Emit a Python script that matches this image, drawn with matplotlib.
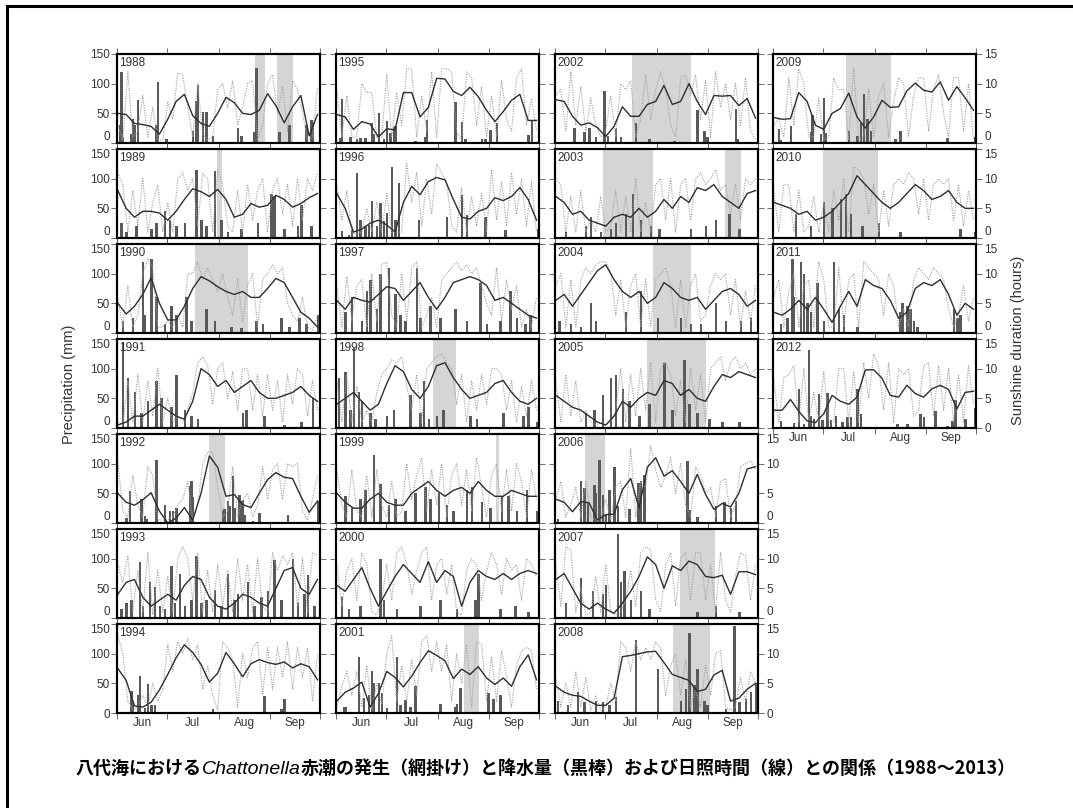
import numpy as np
import matplotlib
matplotlib.use('Agg')
import matplotlib.pyplot as plt
from matplotlib.lines import Line2D

plt.rcParams['font.family'] = ['Liberation Sans', 'DejaVu Sans']

# day index 0 = 1 June, 121 = 30 Sep
sun_days = np.arange(0, 121, 3)   # daily sunshine read every 3rd day
avg_days = np.arange(0, 121, 5)   # running mean read every 5th day
month_edges = [0, 30, 61, 92, 122]
month_mid = [15, 45.5, 76.5, 107]
month_names = ['Jun', 'Jul', 'Aug', 'Sep']

# ---- data: rain = (day, mm), sun = hours (daily), avg = hours (smoothed), tide = red tide spans
rain_1988 = [(1, 30), (2, 120), (3, 10), (8, 15), (9, 41), (10, 30), (12, 72), (23, 30), (24, 102), (29, 7),
             (45, 21), (47, 71), (48, 98), (51, 52), (53, 52), (57, 11), (72, 25), (74, 11), (82, 18), (83, 126),
             (97, 18), (103, 31), (113, 31), (116, 38), (117, 35)]
sun_1988 = [3, 0.5, 12, 1, 2, 8, 1, 6, 0.5, 0.5, 7, 4, 11.8, 11.5, 6, 1, 10, 1.5, 0.5, 1, 9, 10, 6, 10.5, 3, 6,
            10, 10.5, 0.5, 3, 10, 11.5, 5, 9.5, 2, 10.5, 9, 5, 0.5, 1, 9.5]
avg_1988 = [5.0, 4.8, 3.3, 3.1, 2.8, 1.5, 4.0, 7.0, 8.2, 4.6, 3.3, 2.8, 5.0, 7.7, 6.8, 5.0, 4.8, 5.5, 8.3, 6.3,
            3.4, 6.1, 8.0, 1.2, 4.8]
tide_1988 = [(83, 89), (96, 106)]

rain_1989 = [(2, 25), (5, 10), (11, 20), (20, 15), (23, 25), (28, 45), (31, 30), (35, 20), (40, 25), (47, 115),
             (50, 30), (53, 20), (58, 113), (62, 30), (66, 10), (74, 15), (84, 25), (92, 75), (94, 70), (100, 15),
             (108, 20), (110, 55), (116, 20)]
sun_1989 = [11, 9, 1, 8, 2, 10, 1, 6, 9, 1, 6, 1, 10, 11, 8, 10, 2, 11, 10, 1, 11.5, 9, 2, 1, 8, 1, 9, 3, 8, 10,
            1, 8, 10, 4, 9, 2, 10, 3, 10, 8, 11]
avg_1989 = [8.0, 5.0, 3.5, 4.5, 4.5, 4.2, 3.0, 4.5, 6.5, 8.3, 7.8, 7.0, 8.2, 6.5, 3.5, 4.0, 5.8, 5.2, 5.5, 7.2,
            6.5, 5.2, 5.8, 6.8, 7.5]
tide_1989 = [(60, 63)]

rain_1990 = [(3, 20), (9, 25), (15, 120), (16, 30), (20, 125), (23, 60), (28, 15), (32, 45), (35, 30), (41, 60),
             (44, 20), (53, 40), (58, 20), (68, 10), (74, 8), (83, 20), (87, 15), (98, 25), (103, 10), (109, 25),
             (113, 15), (120, 30)]
sun_1990 = [6, 1, 8, 1, 3, 10, 12.5, 11, 1, 1, 2, 1, 3, 1, 10, 10, 12, 9, 11, 9, 7, 10, 6, 3, 9, 2, 8, 10, 1, 9,
            10, 11.5, 10, 11, 5, 3, 2, 6, 1, 0.5, 3]
avg_1990 = [5.0, 3.2, 4.5, 6.5, 9.3, 5.0, 2.2, 2.2, 4.5, 7.5, 9.5, 8.8, 7.8, 7.0, 6.5, 7.0, 6.0, 6.0, 7.5, 9.2,
            8.5, 6.0, 3.5, 2.5, 1.0]
tide_1990 = [(47, 79)]

rain_1991 = [(3, 145), (6, 85), (10, 60), (14, 25), (18, 45), (23, 80), (26, 50), (32, 35), (35, 90), (40, 30),
             (44, 20), (48, 15), (75, 25), (77, 30), (88, 20), (100, 5), (110, 10), (117, 50)]
sun_1991 = [1, 0.5, 8, 1, 9, 1, 8, 2, 10, 1, 5, 1, 2, 1, 3, 6, 11, 12, 10.5, 4, 10, 11, 5, 9.5, 3, 10, 10, 3, 9,
            2, 9, 3, 8, 1, 9, 4, 10, 9, 2, 8, 3]
avg_1991 = [0.5, 1.0, 2.0, 2.0, 3.0, 4.0, 3.0, 2.0, 1.5, 4.5, 10.0, 9.0, 7.0, 8.0, 6.0, 7.0, 8.0, 6.0, 5.0, 5.0,
            5.5, 6.0, 7.0, 5.5, 4.5]
tide_1991 = []

rain_1992 = [(5, 8), (7, 54), (14, 40), (16, 12), (17, 6), (23, 107), (28, 31), (31, 20), (33, 20), (35, 25),
             (43, 63), (44, 71), (45, 43), (63, 21), (64, 23), (66, 37), (67, 28), (69, 80), (70, 25), (73, 48),
             (74, 37), (75, 38), (76, 14), (81, 3), (85, 17), (102, 14), (120, 37)]
sun_1992 = [10.5, 2, 1, 8, 3, 1, 9.5, 8, 0.5, 0.5, 0.5, 1, 3, 4, 7, 0.5, 3, 10, 12, 12, 6, 1, 2, 9.5, 1, 4, 5, 1,
            3, 9.5, 4, 9, 10, 4, 10, 9.5, 10, 2, 0.5, 4, 8]
avg_1992 = [5.0, 3.5, 3.0, 3.9, 5.1, 2.0, 0.0, 0.8, 2.6, 0.5, 5.0, 11.3, 9.4, 4.5, 4.8, 3.1, 2.6, 5.0, 7.3, 8.5,
            7.7, 7.5, 4.5, 1.8, 3.7]
tide_1992 = [(55, 65)]

rain_1993 = [(2, 15), (5, 25), (8, 30), (13, 95), (15, 20), (19, 60), (22, 52), (25, 20), (28, 15), (32, 88),
             (34, 25), (37, 75), (40, 20), (44, 30), (47, 105), (50, 25), (53, 30), (58, 48), (62, 20), (66, 75),
             (70, 30), (72, 40), (78, 60), (82, 20), (86, 35), (90, 45), (94, 97), (98, 30), (105, 100), (108, 25),
             (112, 40), (114, 73), (118, 20)]
sun_1993 = [9, 6, 10.5, 1, 8, 1, 11, 0.5, 8, 1, 7, 1, 10, 12, 10, 3, 11, 1, 8, 1, 9, 2, 8, 1, 10, 3, 9, 1, 10, 2,
            1, 11, 8, 10.5, 9, 11, 2, 10, 1, 11, 10.5]
avg_1993 = [4.0, 6.0, 6.5, 3.5, 2.0, 3.0, 4.0, 3.0, 5.5, 7.0, 6.5, 3.5, 2.0, 1.5, 2.5, 4.0, 3.5, 2.5, 2.0, 5.0,
            8.0, 8.5, 5.0, 4.0, 6.5]
tide_1993 = []

rain_1994 = [(8, 37), (9, 20), (12, 30), (13, 62), (16, 8), (18, 49), (20, 13), (22, 14), (57, 7), (88, 29),
             (98, 7), (100, 23)]
sun_1994 = [13, 10, 2, 0.5, 1, 3, 1, 5, 2, 4, 11.5, 7, 12, 10, 12.5, 9, 11.5, 4, 8, 3, 0.5, 12, 11, 9, 1, 10, 6,
            11, 12, 3, 11, 4, 11, 6, 12, 4, 11, 6, 11, 2, 10]
avg_1994 = [7.5, 5.5, 1.2, 1.0, 1.8, 3.9, 6.5, 9.3, 11.5, 10.2, 8.2, 5.2, 6.7, 10.2, 8.3, 6.1, 8.3, 9.0, 8.5, 8.2,
            8.6, 7.6, 8.3, 7.8, 5.6]
tide_1994 = []

rain_1995 = [(2, 9), (3, 75), (8, 10), (12, 7), (14, 8), (17, 8), (21, 34), (22, 16), (25, 51), (28, 7), (30, 37),
             (32, 17), (34, 27), (35, 28), (47, 4), (53, 10), (54, 39), (71, 69), (75, 36), (77, 6), (87, 6),
             (89, 7), (92, 22), (96, 34), (115, 13), (117, 37)]
sun_1995 = [9, 1, 8, 1, 1, 10, 8.5, 8.5, 1, 1, 11.5, 1, 8.5, 3, 12.5, 12.5, 1, 8, 2, 12, 1, 12.5, 12.5, 12, 2, 0.5,
            12, 11, 3, 9.5, 1, 8, 1, 10.5, 4, 2, 11, 12.5, 3, 7.5, 2]
avg_1995 = [4.8, 4.4, 2.3, 3.6, 3.2, 1.0, 2.4, 2.2, 8.5, 8.5, 4.4, 6.0, 10.9, 10.8, 8.7, 8.0, 9.4, 7.8, 5.5, 3.6,
            5.3, 7.2, 8.2, 3.8, 3.8]
tide_1995 = []

rain_1996 = [(3, 11), (7, 5), (9, 14), (12, 110), (14, 31), (17, 20), (19, 22), (21, 62), (24, 20), (26, 59),
             (28, 28), (30, 42), (33, 119), (35, 31), (37, 92), (49, 31), (66, 36), (75, 73), (78, 39), (89, 36),
             (101, 14), (121, 15)]
sun_1996 = [9, 3, 8, 1, 0.5, 1, 5, 1, 6, 1, 7.5, 1, 1, 1, 12.5, 6, 11, 2, 10, 4, 12.5, 11, 9.5, 2, 1, 8.5, 1, 7,
            2, 7.5, 1, 11.5, 3, 9.5, 2, 11, 4, 10, 2, 9.5, 1]
avg_1996 = [7.5, 5.0, 1.0, 1.5, 2.5, 3.0, 2.2, 1.0, 6.0, 8.7, 7.3, 9.5, 10.2, 9.8, 6.5, 3.5, 3.2, 4.5, 5.0, 6.8,
            6.3, 7.0, 8.5, 6.5, 3.0]
tide_1996 = []

rain_1997 = [(5, 35), (9, 60), (15, 20), (18, 70), (20, 90), (24, 40), (26, 100), (31, 110), (35, 65), (38, 30),
             (41, 20), (48, 110), (50, 25), (56, 45), (62, 25), (71, 40), (78, 20), (86, 85), (90, 15), (98, 20),
             (104, 70), (108, 25), (113, 15), (116, 30)]
sun_1997 = [8, 1, 9.5, 2, 8, 9, 1, 10, 2, 11.5, 12, 3, 1, 10, 2, 11, 12, 1, 3, 6, 1, 9, 10, 11, 12, 10.5, 11.5,
            10, 11, 8, 5, 3, 11, 2, 9, 4, 8, 1, 4, 1, 6]
avg_1997 = [5.5, 4.0, 6.0, 5.5, 5.2, 6.5, 7.8, 7.5, 5.5, 7.0, 8.5, 6.0, 4.0, 6.0, 8.5, 9.0, 9.5, 9.0, 8.0, 5.5,
            6.0, 5.0, 4.0, 3.0, 2.5]
tide_1997 = []

rain_1998 = [(1, 85), (5, 95), (8, 30), (10, 135), (13, 60), (15, 45), (20, 25), (23, 15), (30, 20), (34, 30),
             (44, 55), (50, 25), (52, 80), (55, 15), (60, 20), (64, 30), (80, 20), (84, 15), (100, 25), (112, 20),
             (115, 35), (120, 10)]
sun_1998 = [8, 1, 9, 1, 7, 1, 3, 1, 6, 9, 10, 11.5, 11, 12, 7, 3, 9, 1, 10, 11, 12, 12.5, 11, 10, 4, 9, 1, 8, 3,
            9, 4, 10, 10, 9, 3, 8, 1, 7, 2, 8, 3]
avg_1998 = [4.0, 5.0, 6.0, 4.5, 3.0, 4.0, 7.5, 10.5, 9.5, 6.5, 5.0, 7.0, 10.5, 11.0, 8.5, 6.5, 5.0, 5.5, 6.0, 7.5,
            8.0, 6.0, 4.5, 4.0, 5.0]
tide_1998 = [(58, 72)]

rain_1999 = [(5, 45), (9, 25), (14, 40), (17, 55), (22, 115), (26, 65), (31, 30), (35, 40), (41, 20), (47, 50),
             (53, 60), (56, 40), (61, 50), (66, 30), (70, 20), (78, 55), (81, 60), (87, 35), (92, 25), (99, 45),
             (103, 45), (108, 20), (114, 55), (120, 20)]
sun_1999 = [9, 3, 1, 9, 2, 1, 8, 1, 9, 3, 1, 7, 1, 2, 10, 4, 8, 11, 2, 9, 3, 10, 1, 8, 10, 3, 9, 2, 11, 6, 1, 8,
            10, 2, 9, 2, 10, 7, 1, 9, 4]
avg_1999 = [5.0, 3.5, 2.5, 2.5, 4.0, 5.0, 3.5, 3.0, 3.0, 5.0, 6.0, 7.0, 5.5, 4.5, 5.5, 6.0, 5.0, 7.0, 5.5, 4.5,
            4.5, 5.5, 5.0, 4.5, 4.5]
tide_1999 = [(96, 98)]

rain_2000 = [(3, 35), (7, 15), (14, 20), (26, 100), (28, 30), (36, 15), (50, 20), (62, 30), (72, 15), (83, 30),
             (85, 75), (98, 15), (107, 20), (115, 10)]
sun_2000 = [9, 2, 8, 10, 3, 11, 9, 1, 0.5, 3, 9, 3, 11, 12, 9, 4, 8, 11, 12, 3, 9, 10, 4, 9, 1, 0.5, 8, 10, 9, 3,
            8, 11, 9, 4, 10, 8, 9, 3, 10, 9, 7]
avg_2000 = [5.5, 4.5, 6.5, 8.5, 5.0, 2.0, 4.5, 7.0, 9.0, 7.5, 6.0, 9.5, 6.0, 8.0, 7.0, 2.0, 6.0, 8.0, 7.0, 6.5,
            7.5, 6.5, 7.5, 8.0, 7.5]
tide_2000 = []

rain_2001 = [(4, 10), (5, 10), (13, 94), (16, 25), (19, 30), (21, 71), (22, 50), (25, 50), (27, 33), (30, 8),
             (36, 94), (38, 13), (41, 22), (44, 10), (47, 46), (62, 16), (71, 10), (72, 16), (74, 42), (91, 33),
             (94, 23), (98, 31)]
sun_2001 = [1, 4.5, 7, 3, 7, 1, 8, 0.5, 5, 1.5, 10, 13, 2, 8, 2, 9, 3, 12, 13, 7, 12, 7, 11.5, 2, 10, 5, 11.5, 1,
            12, 11.5, 2, 9.5, 2, 10.5, 6, 1, 8, 10.5, 11, 10.5, 4]
avg_2001 = [2.0, 3.5, 4.2, 5.2, 1.0, 3.3, 7.0, 6.0, 4.4, 6.2, 8.5, 10.5, 9.7, 8.8, 5.8, 7.4, 6.5, 7.8, 5.9, 4.8,
            5.9, 4.5, 7.8, 9.8, 5.6]
tide_2001 = [(77, 86)]

rain_2002 = [(11, 25), (17, 18), (20, 25), (24, 10), (29, 88), (31, 12), (36, 24), (39, 10), (48, 33), (56, 7),
             (71, 3), (85, 55), (89, 20), (91, 10), (108, 58), (109, 7)]
sun_2002 = [8, 9, 2, 12, 3, 9.5, 2, 7.5, 3, 1, 2, 8, 1, 10, 9, 10.5, 1, 4, 11.5, 4, 9, 12, 9, 3, 1, 11, 11.5, 8,
            11.5, 4, 10.5, 1, 12, 6, 10, 4, 10, 3, 11, 2, 0.5]
avg_2002 = [7.3, 7.0, 4.5, 3.0, 3.4, 2.6, 1.1, 2.8, 6.1, 4.5, 4.5, 6.5, 7.0, 9.7, 6.5, 7.0, 10.0, 7.0, 4.8, 8.0,
            7.9, 8.0, 6.3, 7.5, 4.2]
tide_2002 = [(46, 82)]

rain_2003 = [(6, 10), (18, 20), (21, 35), (27, 10), (33, 15), (36, 25), (42, 40), (46, 75), (51, 30), (57, 20),
             (62, 15), (81, 15), (90, 20), (96, 30), (104, 40), (110, 15)]
sun_2003 = [10, 9, 1, 7, 1, 8, 1, 3, 1, 7, 1, 2, 8, 1, 7, 1, 10, 1, 6, 1, 9, 10, 3, 10, 1, 9, 10, 3, 10, 11, 9,
            10, 11.5, 8, 9, 4, 9, 3, 10, 9, 10]
avg_2003 = [7.0, 6.0, 4.0, 4.5, 3.0, 2.5, 2.0, 3.5, 4.0, 3.5, 5.0, 3.5, 4.5, 6.5, 5.0, 7.0, 6.0, 8.5, 8.0, 9.0,
            7.0, 6.0, 5.0, 7.5, 8.0]
tide_2003 = [(29, 59), (102, 112)]

rain_2004 = [(2, 20), (9, 15), (15, 10), (21, 50), (24, 20), (42, 35), (51, 70), (61, 25), (75, 25), (81, 15),
             (87, 15), (96, 50), (102, 20), (111, 20), (117, 25)]
sun_2004 = [8, 10, 1, 9, 1, 9, 11, 10, 11.5, 12, 12, 10, 3, 9, 1, 8, 10, 1, 9, 1, 9, 10, 11, 8, 1, 9, 1, 8, 10, 2,
            3, 8, 10, 9, 10, 3, 9, 1, 7, 2, 8]
avg_2004 = [5.5, 6.5, 4.5, 6.5, 8.5, 10.5, 11.5, 9.0, 7.0, 6.0, 7.0, 5.0, 6.0, 8.5, 7.5, 6.0, 5.5, 6.0, 4.0, 5.5,
            7.0, 7.5, 6.5, 4.5, 5.5]
tide_2004 = [(59, 82)]

rain_2005 = [(18, 25), (23, 30), (28, 55), (33, 85), (36, 90), (40, 65), (44, 45), (50, 20), (56, 40), (65, 110),
             (70, 30), (77, 115), (80, 40), (85, 25), (92, 15), (100, 10), (110, 10)]
sun_2005 = [8, 1, 9, 2, 8, 1, 3, 1, 0.5, 1, 0.5, 1, 3, 10, 1, 9, 2, 10, 3, 11, 1, 10, 11, 9, 2, 8, 1, 10, 3, 9, 1,
            10, 11, 12, 8, 11, 12, 10, 11, 9, 10]
avg_2005 = [5.5, 4.5, 3.5, 3.0, 2.0, 1.0, 0.5, 2.0, 4.5, 3.5, 5.0, 6.0, 5.5, 8.0, 7.5, 5.5, 6.5, 5.0, 4.5, 7.0,
            9.0, 8.5, 9.5, 9.0, 8.5]
tide_2005 = [(55, 91)]

rain_2006 = [(1, 7), (15, 71), (17, 59), (19, 33), (23, 64), (24, 50), (26, 106), (28, 48), (30, 13), (32, 55),
             (35, 95), (37, 28), (44, 24), (49, 67), (50, 67), (51, 71), (53, 81), (79, 105), (80, 22), (85, 10),
             (96, 28), (101, 36), (105, 25), (108, 37)]
sun_2006 = [4, 7, 1, 3, 6, 1, 7, 1, 0.5, 0.5, 4, 0.5, 6, 7, 1, 12.5, 1, 7, 6, 13, 9, 6, 8, 11, 5, 10, 3, 1, 9.5,
            8, 5, 6, 1, 7, 7.5, 1, 3, 9.5, 10, 10.5, 9]
avg_2006 = [4.0, 3.5, 1.9, 3.6, 3.4, 0.5, 1.4, 1.5, 5.6, 7.5, 2.5, 9.4, 11.0, 7.9, 8.8, 7.0, 5.0, 8.2, 4.8, 2.3,
            3.3, 2.7, 5.0, 9.1, 9.5]
tide_2006 = [(18, 30)]

rain_2007 = [(6, 25), (15, 68), (22, 45), (28, 40), (30, 55), (37, 142), (39, 60), (41, 80), (45, 30), (51, 45),
             (56, 15), (85, 10), (96, 20), (110, 10)]
sun_2007 = [9, 2, 12, 11.5, 1, 5, 0.5, 1, 7, 1, 9, 1, 0.5, 1, 3, 8, 2, 11, 12, 11.5, 3, 1, 9, 11, 2, 10, 11, 3, 11,
            11, 3, 9, 1, 11, 3, 1, 7, 11, 10.5, 3, 9]
avg_2007 = [6.5, 7.5, 5.0, 2.5, 1.5, 2.5, 1.5, 0.8, 2.5, 4.5, 7.0, 10.3, 9.0, 5.0, 8.8, 8.0, 9.6, 9.0, 7.0, 6.8,
            7.2, 4.0, 7.8, 7.8, 7.3]
tide_2007 = [(75, 96)]

rain_2008 = [(1, 21), (7, 13), (13, 35), (17, 18), (24, 21), (28, 18), (32, 13), (36, 27), (48, 123), (61, 75),
             (75, 21), (78, 41), (80, 134), (83, 47), (85, 75), (89, 21), (91, 13), (102, 7), (107, 146), (110, 18),
             (114, 24), (117, 35), (120, 50)]
sun_2008 = [6, 1, 5, 1, 7, 1, 6, 0.5, 3, 0.5, 1, 5, 2, 12, 11, 7, 12, 9, 11, 9, 12, 11, 3, 8, 10, 3, 9, 1, 4, 1, 8,
            3, 10, 10.5, 1, 0.5, 1, 6, 2, 7, 5]
avg_2008 = [4.5, 3.5, 3.0, 2.8, 2.0, 1.3, 1.3, 2.5, 9.5, 9.7, 10.0, 10.3, 10.4, 8.5, 6.5, 6.0, 5.5, 3.6, 4.0, 6.4,
            7.2, 2.0, 2.5, 4.0, 5.0]
tide_2008 = [(71, 93)]

rain_2009 = [(3, 23), (4, 5), (10, 28), (22, 18), (23, 47), (28, 15), (30, 76), (31, 17), (45, 20), (50, 11),
             (52, 33), (54, 82), (56, 41), (58, 21), (73, 7), (76, 21), (104, 9), (121, 10)]
sun_2009 = [3, 4, 1, 11, 3, 12.5, 10, 1, 1, 7.5, 0.5, 1, 11, 9, 9, 0.5, 12.5, 0.5, 1, 9, 1, 8, 10, 1, 7, 11, 10, 1,
            8, 11, 11, 2, 9, 11.5, 5, 1, 11, 11, 2, 10, 0.5]
avg_2009 = [4.3, 4.0, 4.1, 8.5, 7.0, 3.0, 2.3, 5.0, 5.8, 8.4, 4.4, 2.5, 4.4, 7.2, 6.0, 6.1, 8.8, 10.1, 8.9, 8.6,
            10.3, 7.2, 9.5, 7.6, 5.5]
tide_2009 = [(44, 71)]

rain_2010 = [(13, 40), (22, 20), (30, 60), (35, 50), (40, 65), (43, 75), (46, 40), (53, 20), (63, 25), (76, 10),
             (112, 15), (121, 10)]
sun_2010 = [8, 1, 9, 9, 1, 8, 1, 2, 7, 1, 6, 1, 8, 3, 10, 1, 12, 11.5, 10, 4, 9, 1, 8, 2, 9, 10, 9, 11, 10, 4, 10,
            3, 9, 10, 9, 10, 3, 9, 2, 8, 3]
avg_2010 = [6.0, 5.5, 5.0, 4.0, 4.5, 3.0, 3.5, 4.5, 6.0, 7.5, 10.5, 9.0, 7.5, 6.0, 5.0, 6.0, 7.5, 9.0, 8.0, 6.5,
            7.0, 8.0, 6.0, 5.0, 5.0]
tide_2010 = [(30, 63)]

rain_2011 = [(4, 15), (8, 25), (11, 125), (12, 60), (16, 120), (18, 100), (20, 50), (22, 35), (26, 85), (30, 20),
             (36, 120), (39, 40), (42, 30), (50, 10), (76, 35), (77, 50), (80, 45), (82, 40), (84, 20), (86, 10),
             (108, 40), (110, 25), (112, 30)]
sun_2011 = [6, 9, 1, 7, 10, 1, 8, 9, 1, 12, 9, 1, 1, 11, 1, 9, 10, 1, 12, 11, 10, 9, 3, 10, 8, 1, 4, 1, 9, 11, 10,
            9, 11, 10, 9, 4, 1, 3, 8, 2, 6]
avg_2011 = [3.5, 3.0, 4.0, 5.5, 4.0, 6.0, 4.0, 1.8, 4.5, 7.0, 4.5, 9.0, 8.0, 7.5, 5.5, 2.5, 3.5, 7.5, 8.5, 8.0,
            9.0, 6.5, 3.0, 5.0, 4.0]
tide_2011 = []

rain_2012 = [(4, 12), (12, 8), (15, 66), (18, 7), (21, 132), (22, 21), (24, 15), (27, 58), (29, 14), (32, 59),
             (34, 14), (37, 21), (41, 10), (44, 18), (46, 19), (50, 65), (52, 24), (74, 7), (80, 7), (88, 24),
             (90, 18), (97, 28), (104, 4), (107, 12), (109, 47), (115, 15), (121, 34)]
sun_2012 = [8, 1, 8.5, 9, 10.5, 1, 10, 1, 6, 1, 9.5, 1, 1, 10, 10, 1, 9.5, 1, 11, 5, 12.5, 10.5, 3, 11, 1, 10, 9,
            10, 2, 3, 10.5, 11, 2, 10.5, 3, 10, 1, 9, 1, 10.5, 4]
avg_2012 = [3.0, 3.0, 4.8, 2.8, 1.2, 0.9, 2.4, 5.5, 4.5, 4.0, 5.2, 9.8, 9.8, 8.4, 5.5, 5.2, 7.2, 5.8, 5.2, 6.6,
            7.2, 6.5, 3.2, 6.0, 6.2]
tide_2012 = []

panels = [
    (1988, rain_1988, sun_1988, avg_1988, tide_1988), (1989, rain_1989, sun_1989, avg_1989, tide_1989),
    (1990, rain_1990, sun_1990, avg_1990, tide_1990), (1991, rain_1991, sun_1991, avg_1991, tide_1991),
    (1992, rain_1992, sun_1992, avg_1992, tide_1992), (1993, rain_1993, sun_1993, avg_1993, tide_1993),
    (1994, rain_1994, sun_1994, avg_1994, tide_1994), (1995, rain_1995, sun_1995, avg_1995, tide_1995),
    (1996, rain_1996, sun_1996, avg_1996, tide_1996), (1997, rain_1997, sun_1997, avg_1997, tide_1997),
    (1998, rain_1998, sun_1998, avg_1998, tide_1998), (1999, rain_1999, sun_1999, avg_1999, tide_1999),
    (2000, rain_2000, sun_2000, avg_2000, tide_2000), (2001, rain_2001, sun_2001, avg_2001, tide_2001),
    (2002, rain_2002, sun_2002, avg_2002, tide_2002), (2003, rain_2003, sun_2003, avg_2003, tide_2003),
    (2004, rain_2004, sun_2004, avg_2004, tide_2004), (2005, rain_2005, sun_2005, avg_2005, tide_2005),
    (2006, rain_2006, sun_2006, avg_2006, tide_2006), (2007, rain_2007, sun_2007, avg_2007, tide_2007),
    (2008, rain_2008, sun_2008, avg_2008, tide_2008), (2009, rain_2009, sun_2009, avg_2009, tide_2009),
    (2010, rain_2010, sun_2010, avg_2010, tide_2010), (2011, rain_2011, sun_2011, avg_2011, tide_2011),
    (2012, rain_2012, sun_2012, avg_2012, tide_2012),
]

W, H = 1073, 808
fig = plt.figure(figsize=(W / 100, H / 100), dpi=100)

col_left = [117, 336, 555, 773]
pw, ph = 203, 89
row_top0, row_step = 54, 95

for i, (year, rain, sun, avg, tide) in enumerate(panels):
    if i < 21:
        col, row = i // 7, i % 7
    else:
        col, row = 3, i - 21
    top = row_top0 + row * row_step
    ax = fig.add_axes([col_left[col] / W, 1 - (top + ph) / H, pw / W, ph / H])

    for a, b in tide:
        ax.axvspan(a, b, color='#d5d5d5', lw=0, zorder=0)
    if rain:
        d, mm = zip(*rain)
        ax.bar(d, mm, width=1.5, align='edge', color='#595959', lw=0, zorder=2)
    ax.set_xlim(0, 122)
    ax.set_ylim(0, 150)

    ax2 = ax.twinx()
    ax2.plot(sun_days + 0.5, sun, ls=(0, (1, 1.2)), color='#a0a0a0', lw=0.8)
    ax2.plot(avg_days + 0.5, avg, '-', color='#2e2e2e', lw=1.0)
    ax2.set_ylim(0, 15)

    is_bottom = (row == 6) or (col == 3 and row == 3)
    right_lab = (col == 3) or (col == 2 and row >= 4)

    ax.set_xticks(month_edges)
    ax.set_xticklabels([''] * len(month_edges))
    ax.set_xticks(month_mid, minor=True)
    ax.set_xticklabels(month_names if is_bottom else [''] * 4, minor=True)
    ax.set_yticks([0, 50, 100, 150])
    ax2.set_yticks([0, 5, 10, 15])
    ax.tick_params(which='major', direction='out', length=4, width=0.6, color='#555555',
                   labelcolor='#333333', labelsize=8.5, pad=1,
                   top=True, bottom=True, labelleft=(col == 0))
    ax.tick_params(which='minor', length=0, labelsize=8.5, labelcolor='#333333', pad=3)
    ax2.tick_params(direction='out', length=4, width=0.6, color='#555555',
                    labelcolor='#333333', labelsize=8.5, pad=2, labelright=right_lab)

    # keep the end labels of stacked panels apart, as in the source figure
    lticks = ax.yaxis.get_major_ticks()
    rticks = ax2.yaxis.get_major_ticks()
    if not is_bottom:
        lticks[0].label1.set_va('bottom')
        rticks[0].label2.set_va('bottom')
    if row > 0:
        lticks[-1].label1.set_va('top')
        rticks[-1].label2.set_va('top')

    for a in (ax, ax2):
        for s in a.spines.values():
            s.set_linewidth(1.5)
            s.set_color('black')

    ax.text(0.012, 0.965, str(year), transform=ax.transAxes, ha='left', va='top',
            fontsize=8.5, color='#333333', zorder=5)

fig.text(69 / W, 1 - 384 / H, 'Precipitation (mm)', rotation=90, ha='center', va='center',
         fontsize=10.5, color='#333333')
fig.text(1018 / W, 1 - 340 / H, 'Sunshine duration (hours)', rotation=90, ha='center', va='center',
         fontsize=10.5, color='#333333')

# caption: Japanese text with an italic genus name
cap_parts = [('八代海における', 'jp'), ('Chattonella', 'it'),
             ('赤潮の発生（網掛け）と降水量（黒棒）および日照時間（線）との関係（1988～2013）', 'jp')]
renderer = fig.canvas.get_renderer()
cap_y = 1 - 774 / H
texts = []
x = 0.0
for s, kind in cap_parts:
    if kind == 'jp':
        t = fig.text(x, cap_y, s, family=['Noto Sans CJK JP'], weight='bold', fontsize=13,
                     ha='left', va='baseline', color='black')
    else:
        t = fig.text(x, cap_y, s, family=['Liberation Sans'], style='italic', fontsize=14,
                     ha='left', va='baseline', color='black')
    bb = t.get_window_extent(renderer)
    x = bb.x1 / fig.bbox.width
    texts.append(t)
total = x
shift = 546 / W - total / 2
for t in texts:
    px, py = t.get_position()
    t.set_position((px + shift, py))

# outer frame lines (left and top)
fig.add_artist(Line2D([7 / W, 7 / W], [0, 1 - 6 / H], transform=fig.transFigure, color='black', lw=2.2))
fig.add_artist(Line2D([7 / W, 1], [1 - 6 / H, 1 - 6 / H], transform=fig.transFigure, color='black', lw=2.2))

fig.savefig('out.png', dpi=100)
